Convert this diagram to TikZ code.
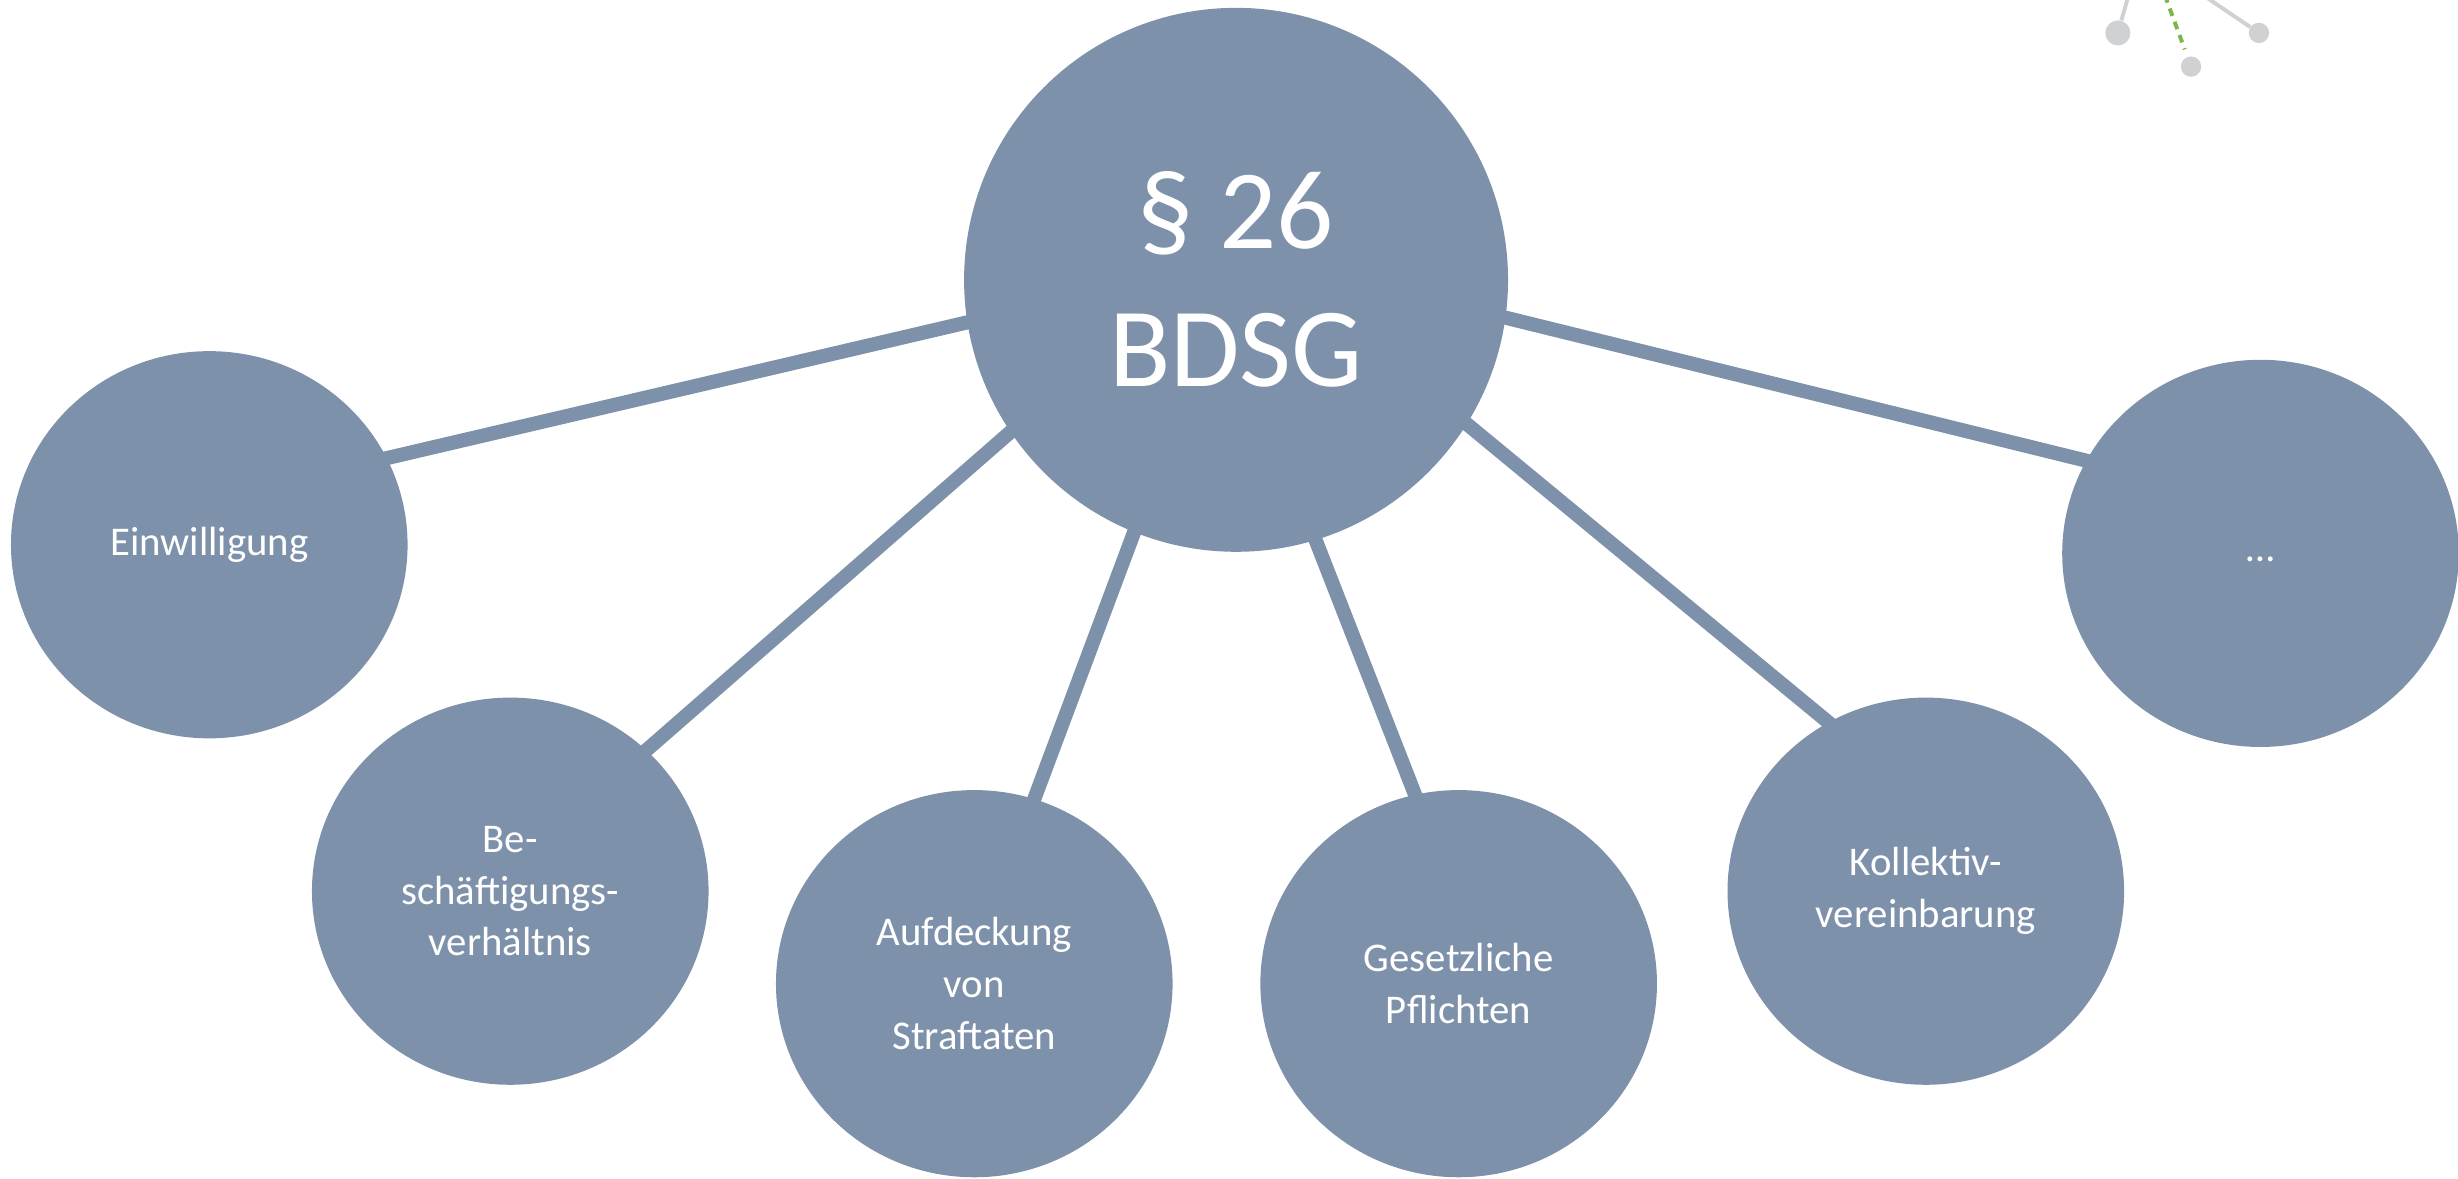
\documentclass[tikz,border=0pt]{standalone}
\usepackage{fontspec}
\setmainfont{Carlito}
\usetikzlibrary{shapes.geometric}
\definecolor{nodeblue}{HTML}{7E91AA}
\definecolor{decogrey}{HTML}{D0D1D3}
\definecolor{decogreen}{HTML}{7AB648}
\begin{document}
\begin{tikzpicture}[x=1pt,y=-1pt,
  hub/.style={circle, fill=nodeblue, draw=none, minimum size=347pt, inner sep=0pt,
    text=white, align=center, font=\fontsize{72}{88}\selectfont},
  topic/.style={ellipse, fill=nodeblue, draw=none, inner sep=0pt,
    minimum width=253pt, minimum height=247pt, text=white, align=center,
    font=\fontsize{26}{33}\selectfont},
  spoke/.style={draw=nodeblue, line width=9pt, shorten <=-3pt, shorten >=-3pt},
  decodot/.style={circle, fill=decogrey, draw=none, inner sep=0pt},
  decoline/.style={draw=decogrey, line width=2.5pt},
  decodash/.style={draw=decogreen, line width=2.5pt, dash pattern=on 5pt off 4pt, shorten >=5pt}]
\useasboundingbox (0,0) rectangle (1568,751.5);
\clip (0,0) rectangle (1568,751.5);

\node[hub] (hub) at (788.5,178.5) {§ 26\\BDSG};
\node[topic] (ein) at (133.5,347.5) {Einwilligung};
\node[topic] (besch) at (325.5,568.5) {Be-\\schäftigungs-\\verhältnis};
\node[topic] (auf) at (621.5,627.5) {Aufdeckung\\von\\Straftaten};
\node[topic] (ges) at (930.5,627.5) {Gesetzliche\\Pflichten};
\node[topic] (koll) at (1228.5,568.5) {Kollektiv-\\vereinbarung};
\node[topic] (more) at (1442,353) {\raisebox{-5pt}[0pt][0pt]{…}};

\draw[spoke] (hub.189.7) -- (ein.26.5);
\draw[spoke] (hub.214.8) -- (besch.46.3);
\draw[spoke] (hub.248.5) -- (auf.72.7);
\draw[spoke] (hub.287) -- (ges.103.6);
\draw[spoke] (hub.328.6) -- (koll.120.6);
\draw[spoke] (hub.352.9) -- (more.152);

\node[decodot, minimum size=16pt] (d1) at (1351,21) {};
\node[decodot, minimum size=13pt] (d2) at (1397.7,42.5) {};
\node[decodot, minimum size=13pt] (d3) at (1441,21) {};
\coordinate (t1) at (1358.4,-5);
\coordinate (t2) at (1381,-3);
\coordinate (t3) at (1402.6,-5);
\draw[decoline] (t1) -- (d1);
\draw[decodash] (t2) -- (d2);
\draw[decoline] (t3) -- (d3);
\end{tikzpicture}
\end{document}
